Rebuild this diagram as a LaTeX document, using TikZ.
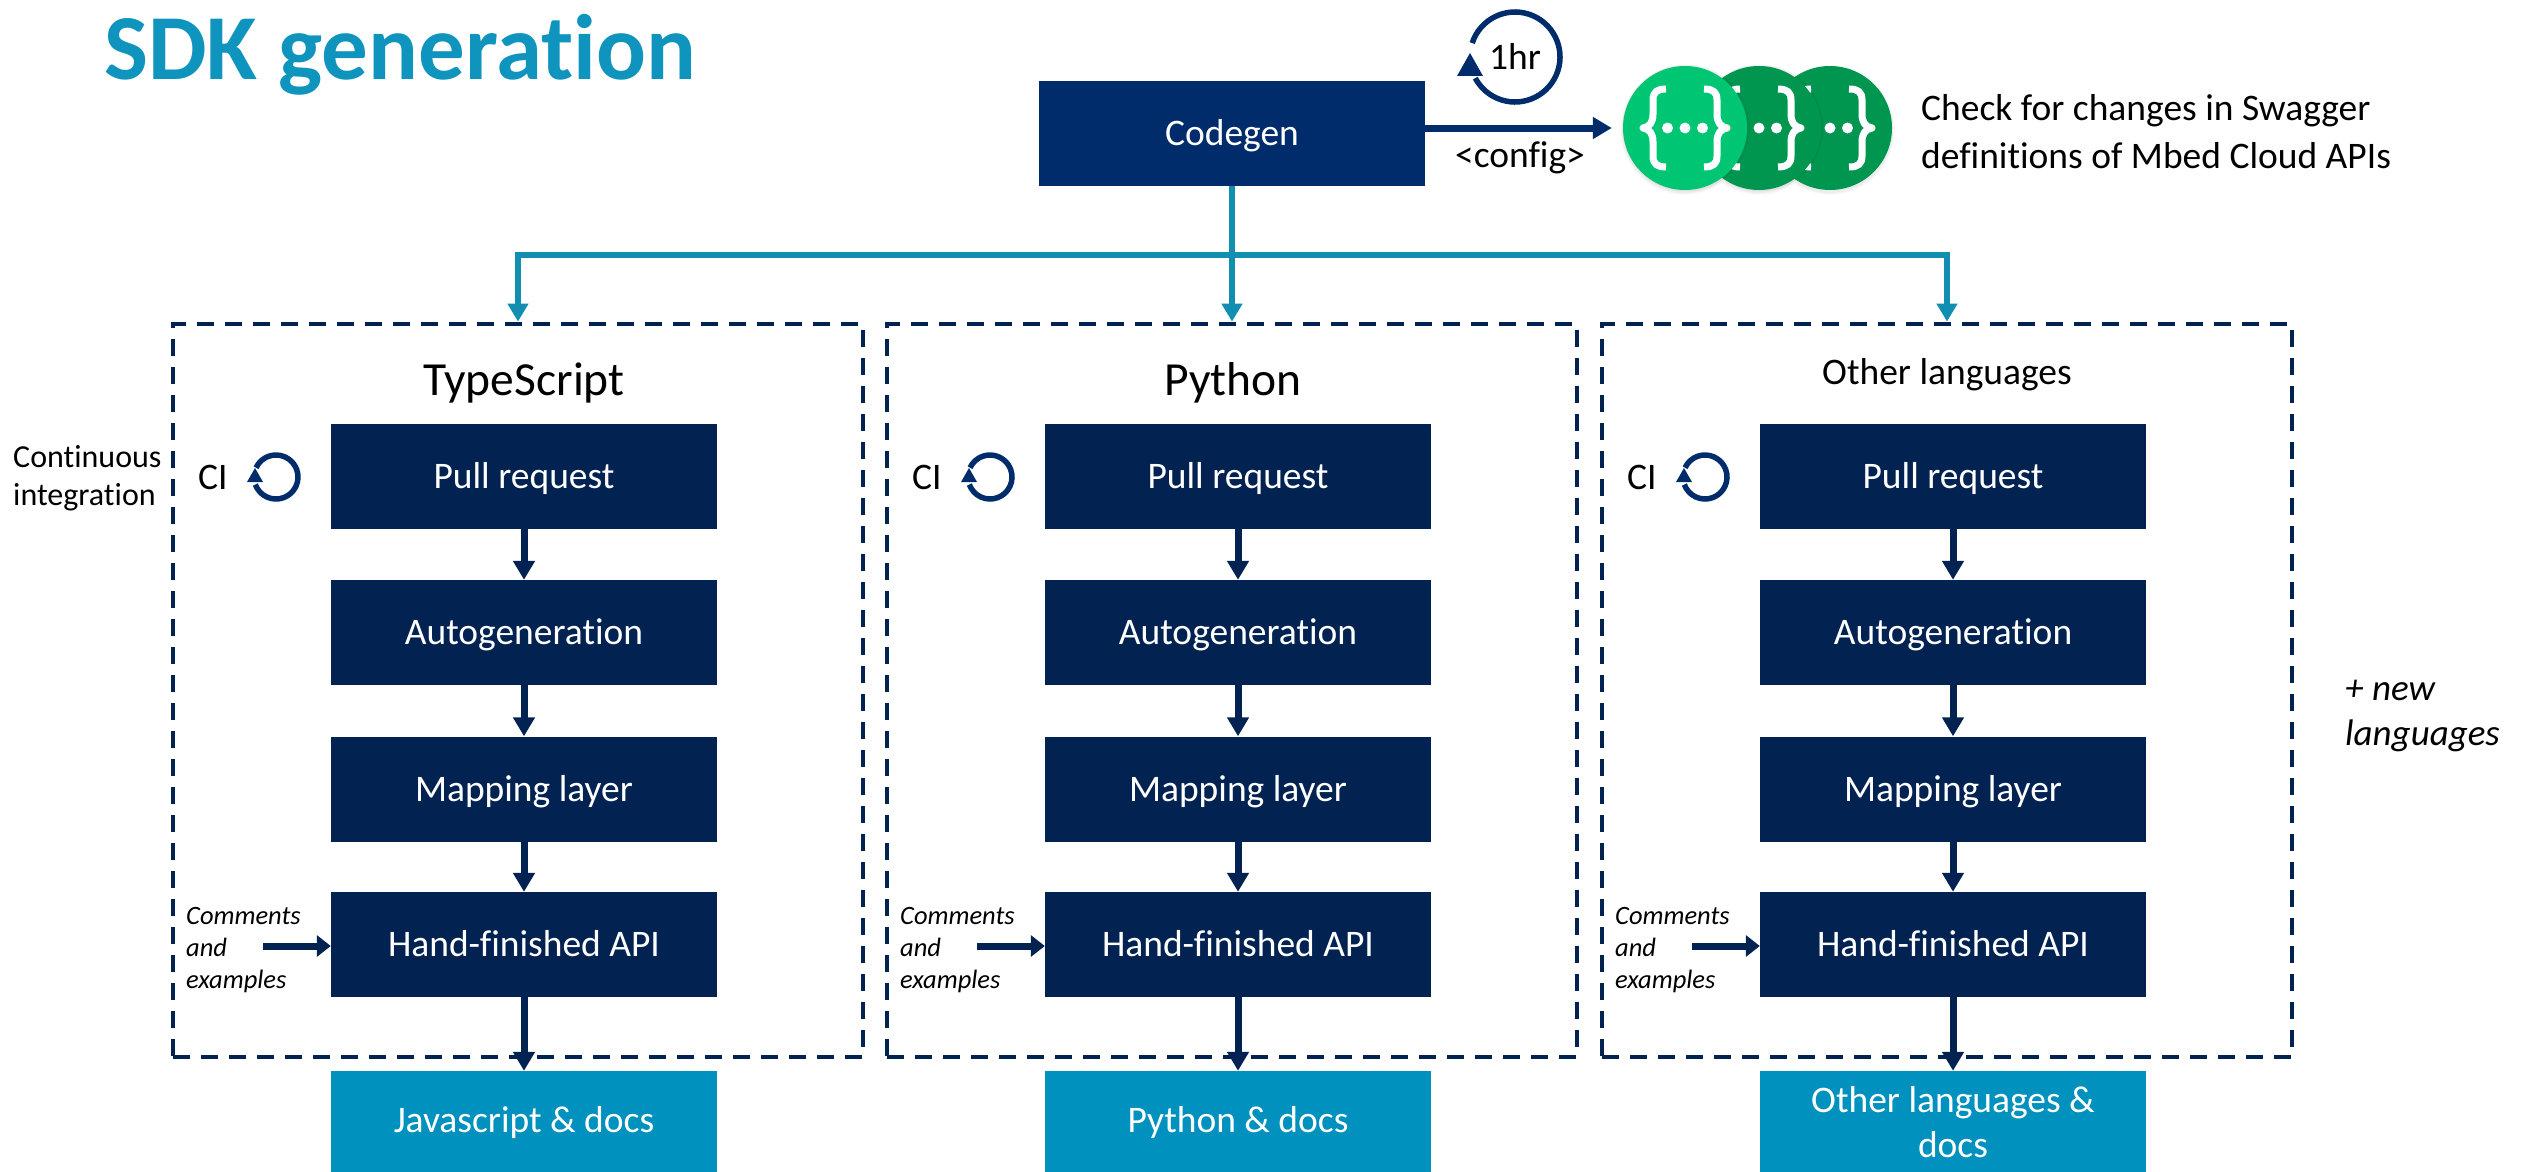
\documentclass[tikz,border=0pt]{standalone}
\usepackage{fontspec}
\setmainfont{Carlito}[RawFeature={-liga}]
\usetikzlibrary{arrows.meta,calc}
\definecolor{navybox}{HTML}{022352}
\definecolor{codebox}{HTML}{002C6B}
\definecolor{tealbox}{HTML}{0091BF}
\definecolor{tealline}{HTML}{128FB0}
\definecolor{titleteal}{HTML}{0E94BD}
\definecolor{swaglight}{HTML}{00C573}
\definecolor{swagdark}{HTML}{00964F}
\newcommand{\fs}[1]{\fontsize{#1}{#1}\selectfont}
\tikzset{
  x=1pt,y=-1pt,
  flowbox/.style={fill=navybox,text=white,minimum width=386pt,minimum height=105pt,inner sep=0pt,
    font=\fs{37.5},text height=28pt,text depth=4pt},
  outbox/.style={fill=tealbox,text=white,minimum width=386pt,minimum height=102pt,inner sep=0pt,
    font=\fs{37.5},align=center},
  groupbox/.style={draw=navybox,line width=4.8pt,dash pattern=on 17pt off 11pt,minimum width=690pt,minimum height=733pt,inner sep=0pt},
  navyarrow/.style={draw=navybox,line width=7pt,-{Triangle[length=19pt,width=21pt]}},
  tealarrow/.style={draw=tealline,line width=6.5pt,-{Triangle[length=18pt,width=20pt]}},
  label/.style={inner sep=0pt,font=\fs{37.5},text=black},
  swagcirc/.style={circle,minimum size=124pt,inner sep=0pt},
  brace/.style={draw=white,line width=7pt,line join=round},
}
\newcommand{\swagglyph}[2]{%
  \draw[brace] (#1-19,#2-39) .. controls (#1-28,#2-39) and (#1-32,#2-36) .. (#1-32,#2-28) -- (#1-32,#2-14)
     .. controls (#1-32,#2-6) and (#1-35,#2-1) .. (#1-42,#2) .. controls (#1-35,#2+1) and (#1-32,#2+6) .. (#1-32,#2+14)
     -- (#1-32,#2+28) .. controls (#1-32,#2+36) and (#1-28,#2+39) .. (#1-19,#2+39);
  \draw[brace] (#1+19,#2-39) .. controls (#1+28,#2-39) and (#1+32,#2-36) .. (#1+32,#2-28) -- (#1+32,#2-14)
     .. controls (#1+32,#2-6) and (#1+35,#2-1) .. (#1+42,#2) .. controls (#1+35,#2+1) and (#1+32,#2+6) .. (#1+32,#2+14)
     -- (#1+32,#2+28) .. controls (#1+32,#2+36) and (#1+28,#2+39) .. (#1+19,#2+39);
  \fill[white] (#1-17.5,#2) circle[radius=5.5pt] (#1,#2) circle[radius=5.5pt] (#1+17.5,#2) circle[radius=5.5pt];
}
\begin{document}
\begin{tikzpicture}
\useasboundingbox (0,0) rectangle (2524,1172);
\node[anchor=base west,inner sep=0pt,text=titleteal,font=\fs{93}\bfseries] (title) at (104,80) {SDK generation};

% codegen
\node[flowbox,fill=codebox] (codegen) at (1232,133.5) {Codegen};

% swagger icons
\foreach \r/\o in {65/.015,64/.025,63/.03}{
  \fill[black,opacity=\o] (1830,130) circle[radius=\r pt] (1759,130) circle[radius=\r pt] (1685,130) circle[radius=\r pt];
}
\node[swagcirc,fill=swagdark] (back) at (1830,128) {};
\swagglyph{1830}{128}
\fill[black,opacity=.05] (1760,128) circle[radius=63.5pt];
\node[swagcirc,fill=swagdark] (mid) at (1759,128) {};
\swagglyph{1759}{128}
\fill[black,opacity=.05] (1686,128) circle[radius=63.5pt];
\node[swagcirc,fill=swaglight] (front) at (1685,128) {};
\swagglyph{1685}{128}

\draw[navyarrow,draw=codebox,shorten >=11pt] (codegen.east |- front.west) -- (front.west);
\node[label,font=\fs{37.5}] (config) at (1520,158) {<config>};

% 1hr loop
\draw[draw=codebox,line width=5.5pt] ($(1515,57)+(162:45pt)$) arc[start angle=162,end angle=-152,radius=45pt];
\fill[codebox] (1457,76) -- (1483,76) -- (1470,53) -- cycle;
\node[label] (hr) at (1515,56) {1hr};

\node[label,anchor=base west] (checktext) at (1921,120) {Check for changes in Swagger};
\node[label,anchor=base west] (checktext2) at (1921,168) {definitions of Mbed Cloud APIs};

\node[label,font=\fs{32},anchor=base west] (cont) at (13,467) {Continuous};
\node[label,font=\fs{32},anchor=base west] (integ) at (13,505) {integration};
\node[label,font=\fs{37}\itshape,anchor=base west] (plus) at (2345,700) {+ new};
\node[label,font=\fs{37}\itshape,anchor=base west] (langs) at (2345,745) {languages};

% columns
\foreach \i/\dx/\ttl/\tx/\tf/\ty/\outtext in {
  1/0/TypeScript/524/47.5/383/{Javascript \& docs},
  2/714/Python/1233/47.5/383/{Python \& docs},
  3/1429/Other languages/1947/37.5/375/{Other languages \&\\[8pt]docs}}{
  \node[groupbox] (grp\i) at (518+\dx,690.5) {};
  \node[label,font=\fs{\tf}] (ttl\i) at (\tx,\ty) {\ttl};
  \node[flowbox] (pull\i) at (524+\dx,476.5) {Pull request};
  \node[flowbox] (auto\i) at (524+\dx,632.5) {Autogeneration};
  \node[flowbox] (map\i) at (524+\dx,789) {Mapping layer};
  \node[flowbox] (hand\i) at (524+\dx,944.5) {Hand-finished API};
  \node[outbox] (out\i) at (524+\dx,1122) {\outtext};
  \node[label,anchor=west] (ci\i) at (198+\dx,477) {CI};
  \coordinate (cic\i) at (276+\dx,477);
  \draw[draw=codebox,line width=5.5pt] ($(cic\i)+(155:22pt)$) arc[start angle=155,end angle=-160,radius=22pt];
  \fill[codebox] (247+\dx,482) -- (263+\dx,482) -- (255+\dx,468) -- cycle;
  \node[label,font=\fs{26.5}\itshape,anchor=base west] (com\i) at (186+\dx,924) {Comments};
  \node[label,font=\fs{26.5}\itshape,anchor=base west] (and\i) at (186+\dx,956) {and};
  \node[label,font=\fs{26.5}\itshape,anchor=base west] (ex\i) at (186+\dx,988) {examples};
  \coordinate (comarrow\i) at (263+\dx,946);
  \draw[navyarrow] (pull\i) -- (auto\i);
  \draw[navyarrow] (auto\i) -- (map\i);
  \draw[navyarrow] (map\i) -- (hand\i);
  \draw[navyarrow] (hand\i) -- (out\i);
  \draw[navyarrow,-{Triangle[length=14pt,width=21pt]}] (comarrow\i) -- (comarrow\i -| hand\i.west);
}

% teal bus
\coordinate (bus) at (1232,255);
\draw[tealarrow] (codegen.south) -- (codegen.south |- grp2.north);
\draw[tealarrow] (bus) -| (grp1.north);
\draw[tealarrow] (bus) -| (grp3.north);
\end{tikzpicture}
\end{document}
